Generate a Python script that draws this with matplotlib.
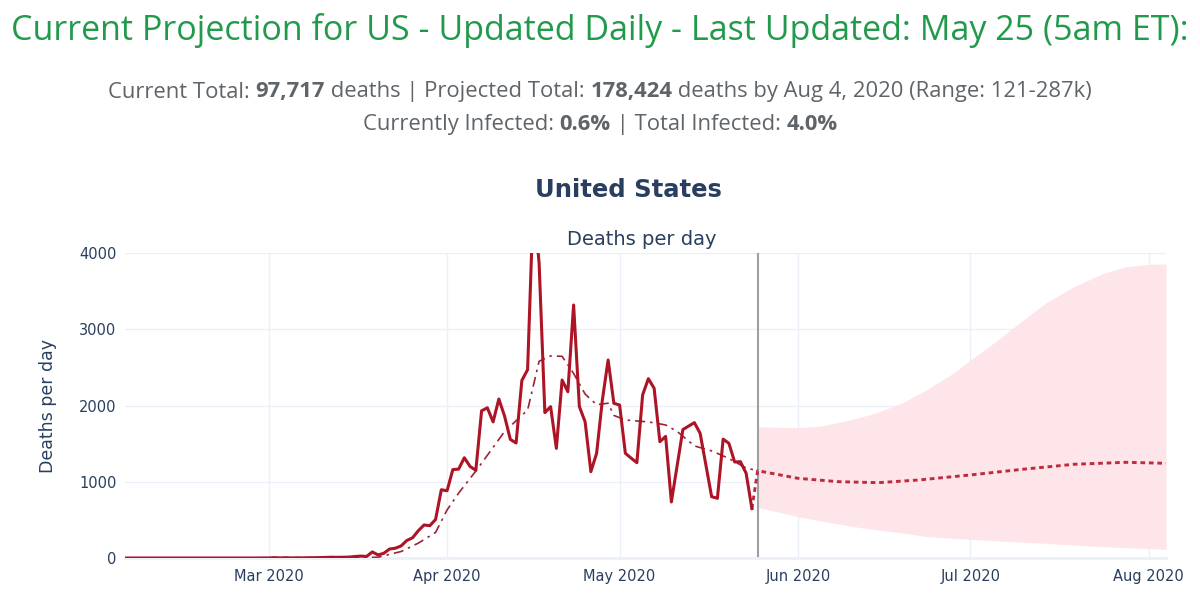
import numpy as np
import matplotlib.pyplot as plt

dates_actual = np.arange('2020-02-05', '2020-05-25', dtype='datetime64[D]')
deaths_actual = [0] * 24 + [1] + \
    [1, 5, 1, 4, 1, 3, 2, 4, 4, 6, 8, 10, 9, 10, 12, 20, 25, 20] + \
    [80, 40, 62, 118, 128, 158, 230, 265, 358, 433,
     424, 505, 895, 882, 1160, 1165, 1315, 1200, 1150, 1930,
     1970, 1785, 2085, 1860, 1555, 1508, 2328, 2470, 4690, 3870,
     1906, 1985, 1438, 2334, 2181, 3318, 1985, 1787, 1132, 1373,
     2072, 2597, 2029, 2006, 1373, 1310, 1250, 2138, 2352, 2226,
     1525, 1595, 735, 1210, 1684, 1730, 1775, 1635, 1220, 804,
     783, 1559, 1504, 1259, 1263, 1111, 648]

# smoothed (dash-dot) line
ma_dates = ['2020-03-15', '2020-03-20', '2020-03-24', '2020-03-27', '2020-03-30',
            '2020-04-01', '2020-04-03', '2020-04-06', '2020-04-09', '2020-04-11',
            '2020-04-15', '2020-04-17', '2020-04-19', '2020-04-21', '2020-04-23',
            '2020-04-25', '2020-04-27', '2020-04-29', '2020-04-30', '2020-05-02',
            '2020-05-06', '2020-05-09', '2020-05-11', '2020-05-14', '2020-05-17',
            '2020-05-20', '2020-05-23', '2020-05-25']
ma_values = [0, 10, 85, 195, 335, 630, 850, 1140, 1450, 1660,
             1940, 2580, 2650, 2645, 2420, 2150, 2010, 2030, 1870, 1810,
             1785, 1745, 1660, 1470, 1405, 1305, 1180, 1145]

# projection (dotted)
proj_dates = ['2020-05-24', '2020-05-25', '2020-06-01', '2020-06-08', '2020-06-15',
              '2020-06-22', '2020-07-01', '2020-07-10', '2020-07-19', '2020-07-28',
              '2020-08-04']
proj_values = [648, 1145, 1045, 1001, 988, 1023, 1089, 1163, 1229, 1255, 1242]

# uncertainty band
band_dates = ['2020-05-25', '2020-06-01', '2020-06-05', '2020-06-10', '2020-06-14',
              '2020-06-19', '2020-06-23', '2020-06-28', '2020-07-01', '2020-07-05',
              '2020-07-10', '2020-07-14', '2020-07-19', '2020-07-24', '2020-07-28',
              '2020-08-01', '2020-08-04']
band_upper = [1722, 1709, 1731, 1810, 1889, 2029, 2190, 2422, 2597, 2816,
              3110, 3341, 3558, 3730, 3820, 3852, 3855]
band_lower = [664, 542, 485, 420, 375, 330, 285, 258, 245, 228,
              206, 192, 170, 150, 135, 122, 114]

today = '2020-05-25'
month_ticks = ['2020-03-01', '2020-04-01', '2020-05-01', '2020-06-01', '2020-07-01', '2020-08-01']
month_labels = ['Mar 2020', 'Apr 2020', 'May 2020', 'Jun 2020', 'Jul 2020', 'Aug 2020']
y_ticks = [0, 1000, 2000, 3000, 4000]

navy = '#2a3f5f'
grid = '#ebf0f8'

fig = plt.figure(figsize=(12, 6.11), dpi=100)
ax = fig.add_axes([125 / 1200, 53 / 611, 1041 / 1200, 305 / 611])

ax.fill_between(np.array(band_dates, dtype='datetime64[D]'), band_lower, band_upper,
                color='#fde5ea', lw=0, zorder=1)
ax.plot(dates_actual, deaths_actual, color='#ad1426', lw=2.2, zorder=4)
ax.plot(np.array(ma_dates, dtype='datetime64[D]'), ma_values, color='#9e2236', lw=1.2,
        linestyle=(0, (6, 3, 1.5, 3)), zorder=3)
ax.plot(np.array(proj_dates, dtype='datetime64[D]'), proj_values, color='#bf2a3c', lw=2.1,
        linestyle=(0, (1.6, 1.3)), zorder=3)
ax.axvline(np.datetime64(today), color='#a0a0a0', lw=1.5, zorder=2)

ax.set_xlim(np.datetime64('2020-02-05'), np.datetime64('2020-08-04'))
ax.set_ylim(0, 4000)
ax.set_xticks(np.array(month_ticks, dtype='datetime64[D]'))
ax.set_xticklabels(month_labels)
ax.set_yticks(y_ticks)
ax.grid(True, color=grid, lw=1, zorder=0)
ax.set_axisbelow(True)
for s in ['top', 'right', 'left']:
    ax.spines[s].set_visible(False)
ax.spines['bottom'].set_color(grid)
ax.spines['bottom'].set_linewidth(2)
ax.tick_params(length=0, labelsize=10.5, colors=navy)
ax.tick_params(axis='x', pad=8)
ax.tick_params(axis='y', pad=6)

fig.text(0.04, 1 - 406 / 611, 'Deaths per day', rotation=90, fontsize=12.5, color=navy,
         ha='center', va='center')
fig.text(628 / 1200, 1 - 190 / 611, 'United States', fontsize=17.5, fontweight='bold',
         color=navy, ha='center', va='center')
fig.text(642 / 1200, 1 - 240 / 611, 'Deaths per day', fontsize=14, color=navy,
         ha='center', va='center')

fig.text(0.5, 1 - 30 / 611, 'Current Projection for US - Updated Daily - Last Updated: May 25 (5am ET):',
         fontsize=24.5, color='#229a4c', family='Open Sans', ha='center', va='center')


def rich_line(y, parts, size, color):
    texts = []
    for s, bold in parts:
        t = fig.text(0, y, s, fontsize=size, color=color, family='Open Sans',
                     fontweight='bold' if bold else 'normal', ha='left', va='center')
        texts.append(t)
    fig.canvas.draw()
    r = fig.canvas.get_renderer()
    widths = [t.get_window_extent(r).width / fig.bbox.width for t in texts]
    x = 0.5 - sum(widths) / 2
    for t, w in zip(texts, widths):
        t.set_x(x)
        x += w


sub_gray = '#5f6469'
rich_line(1 - 92 / 611, [('Current Total: ', False), ('97,717', True),
                         (' deaths | Projected Total: ', False), ('178,424', True),
                         (' deaths by Aug 4, 2020 (Range: 121-287k)', False)], 15.8, sub_gray)
rich_line(1 - 124 / 611, [('Currently Infected: ', False), ('0.6%', True),
                          (' | Total Infected: ', False), ('4.0%', True)], 15.8, sub_gray)

plt.savefig('out.png', dpi=100)
